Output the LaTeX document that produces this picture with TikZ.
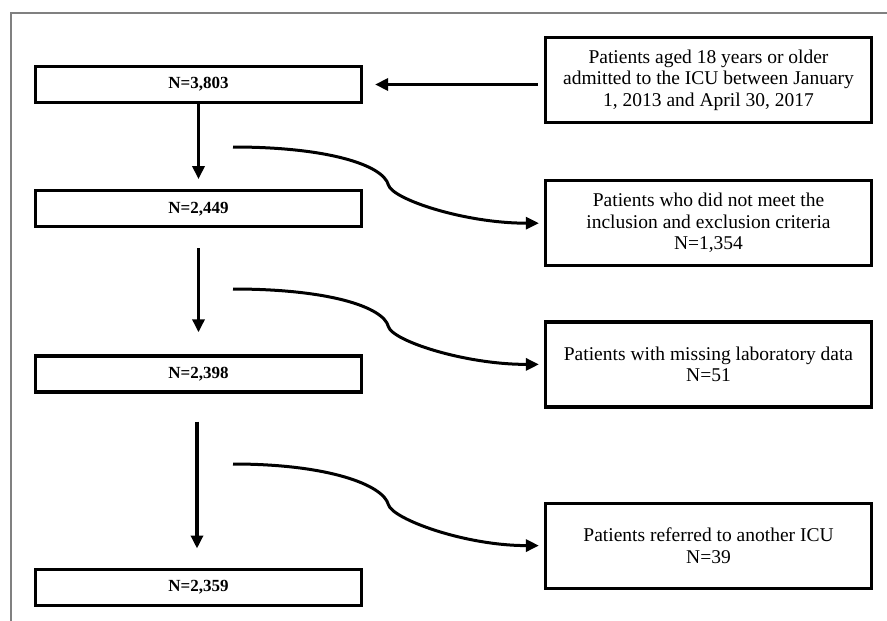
\documentclass[tikz,border=0pt]{standalone}
\usepackage{fontspec}
\setmainfont{Liberation Serif}
\usetikzlibrary{arrows.meta}
\usetikzlibrary{calc}
\usetikzlibrary{positioning}

\begin{document}
\begin{tikzpicture}[x=1pt,y=-1pt,>={Triangle[length=13pt,width=12pt]},line width=3.3pt]
	\tikzstyle{count}=[draw, line width=3.2pt, inner sep=0pt, minimum width=326pt, minimum height=36pt, font=\fontsize{17}{20}\selectfont\bfseries]
	\tikzstyle{excl}=[draw, line width=3.2pt, inner sep=0pt, minimum width=326pt, minimum height=85pt, align=center, font=\fontsize{19.5}{21.5}\selectfont]
	\useasboundingbox (0,0) rectangle (887,621);
	\draw[gray, line width=1.2pt] (11,621) -- (11,13) -- (887,13);

	\node[count]	(n1) at (198.5,84.5)	{N=3,803};
	\node[count]	(n2) [below=85pt of n1]	{N=2,449};
	\node[count]	(n3) [below=126pt of n2]	{N=2,398};
	\node[count]	(n4) [below=174pt of n3]	{N=2,359};

	\node[excl]	(r1) at (708.5,80)	{Patients aged 18 years or older\\admitted to the ICU between January\\1, 2013 and April 30, 2017};
	\node[excl]	(r2) [below=55pt of r1]	{Patients who did not meet the\\inclusion and exclusion criteria\\N=1,354};
	\node[excl]	(r3) [below=53pt of r2]	{Patients with missing laboratory data\\N=51};
	\node[excl]	(r4) [below=93pt of r3]	{Patients referred to another ICU\\N=39};

	\coordinate	(c1) at (233,147);
	\coordinate	(c2) at (233,289);
	\coordinate	(c3) at (233,464);

	\draw[->, shorten <=6pt, shorten >=12pt] (r1.west |- n1) -- (n1.east);
	\draw[->, shorten >=10pt] (n1.south) -- (n2.north);
	\draw[->, shorten <=20pt, shorten >=22pt] (n2.south) -- (n3.north);
	\draw[->, shorten <=28pt, shorten >=19pt] ([xshift=-1.5pt]n3.south) -- ([xshift=-1.5pt]n4.north);

	\draw[->, line width=3pt, shorten >=5pt] (c1) .. controls +(95,0) and +(-5,-20) .. ($(c1)!.5!(r2.west)$) .. controls +(4,14) and +(-80,0) .. (r2.west);
	\draw[->, line width=3pt, shorten >=5pt] (c2) .. controls +(95,0) and +(-5,-20) .. ($(c2)!.5!(r3.west)$) .. controls +(4,14) and +(-80,0) .. (r3.west);
	\draw[->, line width=3pt, shorten >=5pt] (c3) .. controls +(95,0) and +(-5,-20) .. ($(c3)!.5!(r4.west)$) .. controls +(4,14) and +(-80,0) .. (r4.west);
\end{tikzpicture}
\end{document}
